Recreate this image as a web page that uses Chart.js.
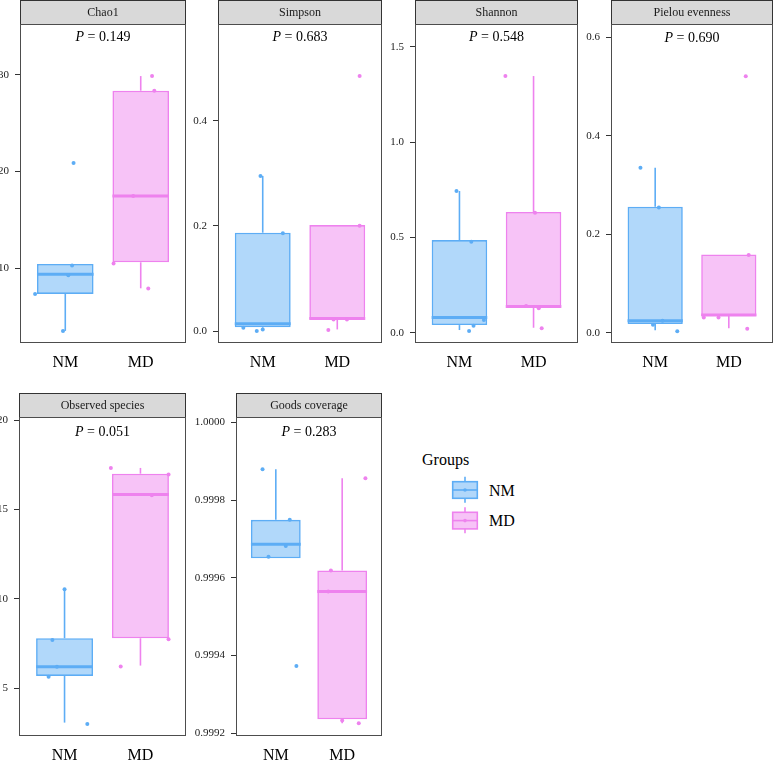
<!DOCTYPE html>
<html>
<head>
<meta charset="utf-8">
<script src="https://cdn.jsdelivr.net/npm/chart.js@4.4.1/dist/chart.umd.min.js"></script>
<style>
    body { margin: 0; background: #fff; width: 780px; height: 760px; position: relative; overflow: hidden; font-family: 'Liberation Serif', serif; }
    canvas { position: absolute; }
    .lg { position: absolute; font-size: 16px; line-height: 19px; color: #000; white-space: nowrap; }
    svg { position: absolute; }
</style>
</head>
<body>
<div class="lg" style="left:422px; top:450px;">Groups</div>
<svg style="left:450px; top:474px" width="30" height="32">
    <line x1="15" y1="2.7" x2="15" y2="28.7" stroke="#5DADF5" stroke-width="1.6"/>
    <rect x="2.7" y="7.7" width="24.6" height="16.6" fill="#b1d7fa" stroke="#5DADF5" stroke-width="1.6"/>
    <line x1="2.7" y1="16" x2="27.3" y2="16" stroke="#5DADF5" stroke-width="1.6"/>
    <circle cx="15" cy="16" r="1.8" fill="#5DADF5"/>
</svg>
<div class="lg" style="left:489px; top:481px;">NM</div>
<svg style="left:450px; top:505px" width="30" height="32">
    <line x1="15" y1="2.3" x2="15" y2="28.3" stroke="#EE82EE" stroke-width="1.6"/>
    <rect x="2.7" y="7.3" width="24.6" height="16.6" fill="#f7c3f7" stroke="#EE82EE" stroke-width="1.6"/>
    <line x1="2.7" y1="15.6" x2="27.3" y2="15.6" stroke="#EE82EE" stroke-width="1.6"/>
    <circle cx="15" cy="15.6" r="1.8" fill="#EE82EE"/>
</svg>
<div class="lg" style="left:489px; top:511px;">MD</div>

<script>
//
// Data
//

const groups = ['NM', 'MD']
const metrics = ['Chao1', 'Simpson', 'Shannon', 'Pielou evenness', 'Observed species', 'Goods coverage']
const pValues = ['0.149', '0.683', '0.548', '0.690', '0.051', '0.283']

// box statistics, [NM, MD] per metric
const whiskerLow = [[3.53, 7.93], [0.002, 0.003], [0.014, 0.026], [0.005, 0.009], [3.08, 6.27], [0.999650, 0.999226]]
const quartile1 = [[7.35, 10.62], [0.007, 0.022], [0.040, 0.131], [0.0176, 0.034], [5.69, 7.80], [0.999650, 0.999236]]
const medians = [[9.38, 17.47], [0.014, 0.024], [0.080, 0.138], [0.024, 0.036], [6.21, 15.84], [0.999686, 0.999565]]
const quartile3 = [[10.45, 28.35], [0.187, 0.2016], [0.486, 0.633], [0.256, 0.159], [7.80, 17.01], [0.999749, 0.999619]]
const whiskerHigh = [[10.45, 29.86], [0.295, 0.2016], [0.743, 1.346], [0.335, 0.159], [10.54, 17.33], [0.999879, 0.999856]]

// samples, as read from the jittered points
const pointsNM = [
    [7.35, 3.53, 9.28, 10.3, 20.88],
    [0.295, 0.186, 0.006, 0.0, 0.003],
    [0.743, 0.477, 0.009, 0.037, 0.066],
    [0.335, 0.254, 0.016, 0.003, 0.024],
    [10.54, 7.7, 5.65, 3.0, 6.21],
    [0.999879, 0.999749, 0.999682, 0.999654, 0.999373],
]
const jitterNM = [
    [-0.40, -0.03, 0.04, 0.09, 0.11],
    [-0.03, 0.27, -0.26, -0.08, 0.0],
    [-0.04, 0.16, 0.13, 0.19, 0.33],
    [-0.20, 0.05, -0.03, 0.30, 0.10],
    [0.0, -0.16, -0.21, 0.30, -0.10],
    [-0.20, 0.21, 0.15, -0.11, 0.31],
]
const pointsMD = [
    [29.86, 28.35, 10.5, 7.9, 17.47],
    [0.485, 0.2, 0.002, 0.022, 0.022],
    [1.346, 0.629, 0.128, 0.023, 0.14],
    [0.521, 0.158, 0.031, 0.031, 0.008],
    [17.33, 16.96, 15.8, 7.75, 6.22],
    [0.999856, 0.999619, 0.999565, 0.999233, 0.999226],
]
const jitterMD = [
    [0.15, 0.18, -0.36, 0.10, -0.10],
    [0.30, 0.30, -0.12, -0.05, 0.13],
    [-0.38, 0.02, 0.07, 0.11, -0.10],
    [0.23, 0.27, -0.34, -0.14, 0.25],
    [-0.39, 0.37, 0.15, 0.37, -0.26],
    [0.35, -0.17, -0.21, 0.0, 0.25],
]

// y axes
const yMin = [2.28, -0.0228, -0.054, -0.021, 2.33, 0.99919306]
const yMax = [35.24, 0.584, 1.619, 0.627, 20.18, 1.0000136]
const yTicks = [
    [10, 20, 30],
    [0, 0.2, 0.4],
    [0, 0.5, 1, 1.5],
    [0, 0.2, 0.4, 0.6],
    [5, 10, 15, 20],
    [0.9992, 0.9994, 0.9996, 0.9998, 1],
]
const yTickLabels = [
    ['10', '20', '30'],
    ['0.0', '0.2', '0.4'],
    ['0.0', '0.5', '1.0', '1.5'],
    ['0.0', '0.2', '0.4', '0.6'],
    ['5', '10', '15', '20'],
    ['0.9992', '0.9994', '0.9996', '0.9998', '1.0000'],
]

//
// Layout / style
//

const PANELS = [
    { left: 20, right: 188, top: 24, bottom: 343, pOff: 13 },
    { left: 218, right: 384, top: 24, bottom: 343, pOff: 13 },
    { left: 415, right: 580, top: 24, bottom: 343, pOff: 13 },
    { left: 611, right: 775, top: 24, bottom: 343, pOff: 14 },
    { left: 19, right: 188, top: 417, bottom: 736, pOff: 15 },
    { left: 236, right: 384, top: 417, bottom: 736, pOff: 15 },
]
const AXIS_W = 45
const STRIP_H = 24
const XAXIS_H = 26
const BOX_W = 0.75
const FONT = "'Liberation Serif', 'Times New Roman', serif"
const LINE_COLORS = ['#5DADF5', '#EE82EE']
const FILL_COLORS = ['rgba(93,173,245,0.48)', 'rgba(238,130,238,0.48)']

const facetPlugin = {
    id: 'facet',
    afterDraw (chart, args, opts) {
        const { ctx, chartArea: a } = chart
        const w = a.right - a.left
        ctx.save()
        // strip
        ctx.fillStyle = '#d9d9d9'
        ctx.fillRect(a.left, a.top - STRIP_H, w, STRIP_H)
        ctx.strokeStyle = '#333'
        ctx.lineWidth = 1
        ctx.strokeRect(a.left + 0.5, a.top - STRIP_H + 0.5, w - 1, STRIP_H)
        ctx.fillStyle = '#1a1a1a'
        ctx.font = `12px ${FONT}`
        ctx.textAlign = 'center'
        ctx.textBaseline = 'middle'
        ctx.fillText(opts.title, a.left + w / 2, a.top - STRIP_H / 2 + 0.5)
        // panel border
        ctx.strokeStyle = '#4d4d4d'
        ctx.strokeRect(a.left + 0.5, a.top + 0.5, w - 1, a.bottom - a.top - 1)
        // p value
        const italic = `italic 14px ${FONT}`
        const normal = `14px ${FONT}`
        const rest = ` = ${opts.p}`
        ctx.font = italic
        const w1 = ctx.measureText('P').width
        ctx.font = normal
        const w2 = ctx.measureText(rest).width
        const x0 = a.left + w / 2 - (w1 + w2) / 2
        const y0 = a.top + opts.pOff
        ctx.textAlign = 'left'
        ctx.fillStyle = '#000'
        ctx.font = italic
        ctx.fillText('P', x0, y0)
        ctx.font = normal
        ctx.fillText(rest, x0 + w1, y0)
        ctx.restore()
    },
}

function make_panel (i) {
    const p = PANELS[i]
    const canvas = document.createElement('canvas')
    canvas.width = AXIS_W + (p.right - p.left) + 2
    canvas.height = STRIP_H + (p.bottom - p.top) + XAXIS_H
    canvas.style.left = (p.left - AXIS_W) + 'px'
    canvas.style.top = (p.top - STRIP_H) + 'px'
    document.body.appendChild(canvas)

    const datasets = []
    groups.forEach((g, gi) => {
        const cx = gi + 1
        const vals = gi === 0 ? pointsNM[i] : pointsMD[i]
        const jit = gi === 0 ? jitterNM[i] : jitterMD[i]
        const line = { type: 'line', borderColor: LINE_COLORS[gi], pointRadius: 0, fill: false, tension: 0 }
        datasets.push({
            type: 'scatter',
            data: vals.map((v, k) => ({ x: cx + jit[k], y: v })),
            pointRadius: 2,
            pointBackgroundColor: LINE_COLORS[gi],
            pointBorderWidth: 0,
            order: 0,
        })
        datasets.push({
            ...line,
            data: [{ x: cx - BOX_W / 2, y: medians[i][gi] }, { x: cx + BOX_W / 2, y: medians[i][gi] }],
            borderWidth: 3,
            order: 1,
        })
        datasets.push({
            ...line,
            data: [{ x: cx, y: whiskerLow[i][gi] }, { x: cx, y: quartile1[i][gi] }],
            borderWidth: 1.6,
            order: 2,
        })
        datasets.push({
            ...line,
            data: [{ x: cx, y: quartile3[i][gi] }, { x: cx, y: whiskerHigh[i][gi] }],
            borderWidth: 1.6,
            order: 2,
        })
    })
    datasets.push({
        type: 'bar',
        data: groups.map((g, gi) => ({ x: gi + 1, y: [quartile1[i][gi], quartile3[i][gi]] })),
        backgroundColor: FILL_COLORS,
        borderColor: LINE_COLORS,
        borderWidth: 1.6,
        borderSkipped: false,
        barPercentage: BOX_W,
        categoryPercentage: 1,
        order: 3,
    })

    new Chart(canvas.getContext('2d'), {
        type: 'scatter',
        data: { datasets },
        options: {
            responsive: false,
            animation: false,
            devicePixelRatio: 1,
            events: [],
            layout: { padding: { top: STRIP_H, right: 2, left: 0, bottom: 0 } },
            plugins: {
                legend: { display: false },
                tooltip: { enabled: false },
                facet: { title: metrics[i], p: pValues[i], pOff: p.pOff },
            },
            scales: {
                x: {
                    type: 'linear',
                    min: 0.4,
                    max: 2.6,
                    offset: false,
                    afterBuildTicks: (s) => { s.ticks = [{ value: 1 }, { value: 2 }] },
                    afterFit: (s) => { s.height = XAXIS_H },
                    grid: { display: false, drawTicks: false },
                    border: { display: false },
                    ticks: {
                        padding: 10,
                        color: '#000',
                        maxRotation: 0,
                        autoSkip: false,
                        font: { family: FONT, size: 16 },
                        callback: (v) => groups[Math.round(v) - 1],
                    },
                },
                y: {
                    type: 'linear',
                    min: yMin[i],
                    max: yMax[i],
                    beginAtZero: false,
                    afterBuildTicks: (s) => { s.ticks = yTicks[i].map((v) => ({ value: v })) },
                    afterFit: (s) => { s.width = AXIS_W },
                    grid: { drawOnChartArea: false, drawTicks: true, tickLength: 5, color: '#333', lineWidth: 1 },
                    border: { display: false },
                    ticks: {
                        padding: 6,
                        color: '#222',
                        autoSkip: false,
                        font: { family: FONT, size: 11 },
                        callback: (v, idx) => yTickLabels[i][idx],
                    },
                },
            },
        },
        plugins: [facetPlugin],
    })
}

metrics.forEach((m, i) => make_panel(i))
</script>
</body>
</html>
